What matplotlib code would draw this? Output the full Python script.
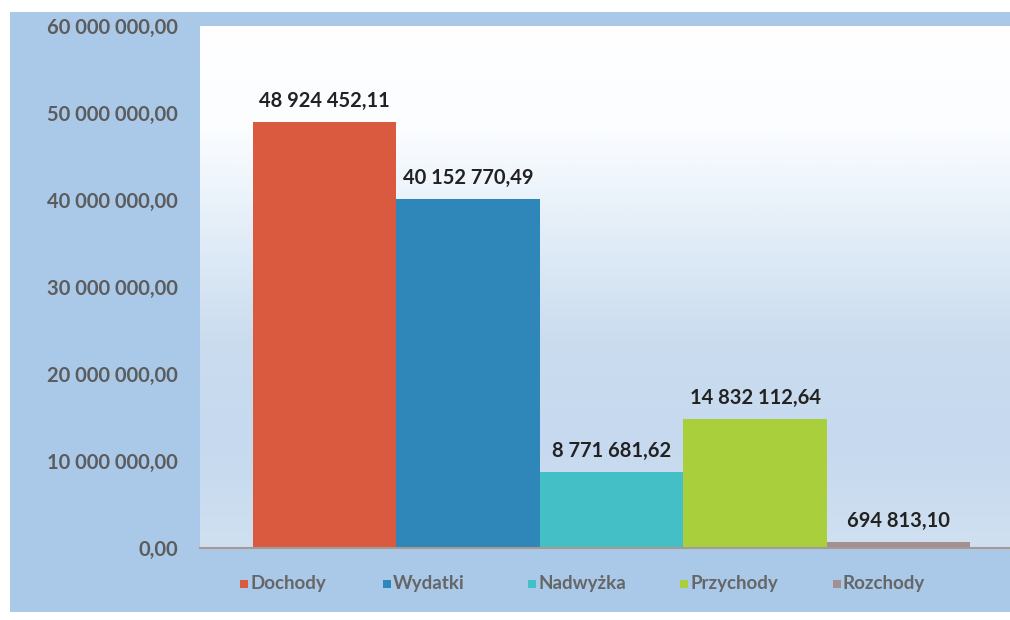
import matplotlib
matplotlib.use("Agg")
import matplotlib.pyplot as plt
import numpy as np
from matplotlib.patches import Rectangle
from matplotlib.colors import LinearSegmentedColormap

categories = ["Dochody", "Wydatki", "Nadwyżka", "Przychody", "Rozchody"]
values = [48924452.11, 40152770.49, 8771681.62, 14832112.64, 694813.10]
labels = ["48 924 452,11", "40 152 770,49", "8 771 681,62", "14 832 112,64", "694 813,10"]
yticks = [0, 10e6, 20e6, 30e6, 40e6, 50e6, 60e6]
ytick_labels = ["0,00", "10 000 000,00", "20 000 000,00", "30 000 000,00",
                "40 000 000,00", "50 000 000,00", "60 000 000,00"]
colors = ["#d95a3f", "#2f86b8", "#45bfc6", "#a9d03c", "#a49090"]

plt.rcParams['font.family'] = ['Lato', 'DejaVu Sans']

W, H = 1010, 620
fig = plt.figure(figsize=(W / 100, H / 100), dpi=100, facecolor="white")

# blue background panel
fig.patches.append(Rectangle((10 / W, 8 / H), 1 - 10 / W, 1 - 20 / H,
                             transform=fig.transFigure, facecolor="#aac9e9",
                             edgecolor="none", zorder=-10))

ax = fig.add_axes([200 / W, (H - 548) / H, 810 / W, (548 - 26) / H])
X0, X1 = -0.869, 4.776

# gradient plot area (white at top, light blue lower)
grad = np.linspace(0, 1, 256).reshape(-1, 1)
cmap = LinearSegmentedColormap.from_list(
    "g", ["#ffffff", "#fbfdff", "#e2edf8", "#cbdcef", "#c6d9ee", "#cfe0f1"])
ax.imshow(grad, aspect="auto", cmap=cmap, extent=[X0, X1, 0, 60e6],
          origin="upper", zorder=0, interpolation="bicubic")
ax.set_ylim(0, 60e6)
ax.set_xlim(X0, X1)

x = np.arange(len(categories))
ax.bar(x, values, width=1.0, color=colors, edgecolor="none", zorder=2)

for xi, v, lab in zip(x, values, labels):
    ax.annotate(lab, (xi, v), xytext=(0, 8), textcoords="offset points",
                ha="center", va="bottom", fontsize=14.5, fontweight="bold",
                color="#222222", zorder=3)

ax.set_yticks(yticks)
ax.set_yticklabels(ytick_labels, fontsize=14.5, fontweight="bold", color="#5c5c5c")
ax.tick_params(axis="y", length=0, pad=16)
ax.set_xticks([])
for s in ["top", "right", "left"]:
    ax.spines[s].set_visible(False)
ax.spines["bottom"].set_color("#a89a90")
ax.spines["bottom"].set_linewidth(1.5)

# legend (manual placement of entries)
leg_x = [240, 383, 528, 680, 833]
leg_y = H - 584
for lx, c, name in zip(leg_x, colors, categories):
    fig.patches.append(Rectangle(((lx) / W, (leg_y - 4) / H), 8 / W, 8 / H,
                                 transform=fig.transFigure, facecolor=c,
                                 edgecolor="none"))
    fig.text((lx + 10) / W, leg_y / H, name, ha="left", va="center",
             fontsize=13.5, fontweight="bold", color="#666666")

fig.savefig("out.png", dpi=100, facecolor="white")
